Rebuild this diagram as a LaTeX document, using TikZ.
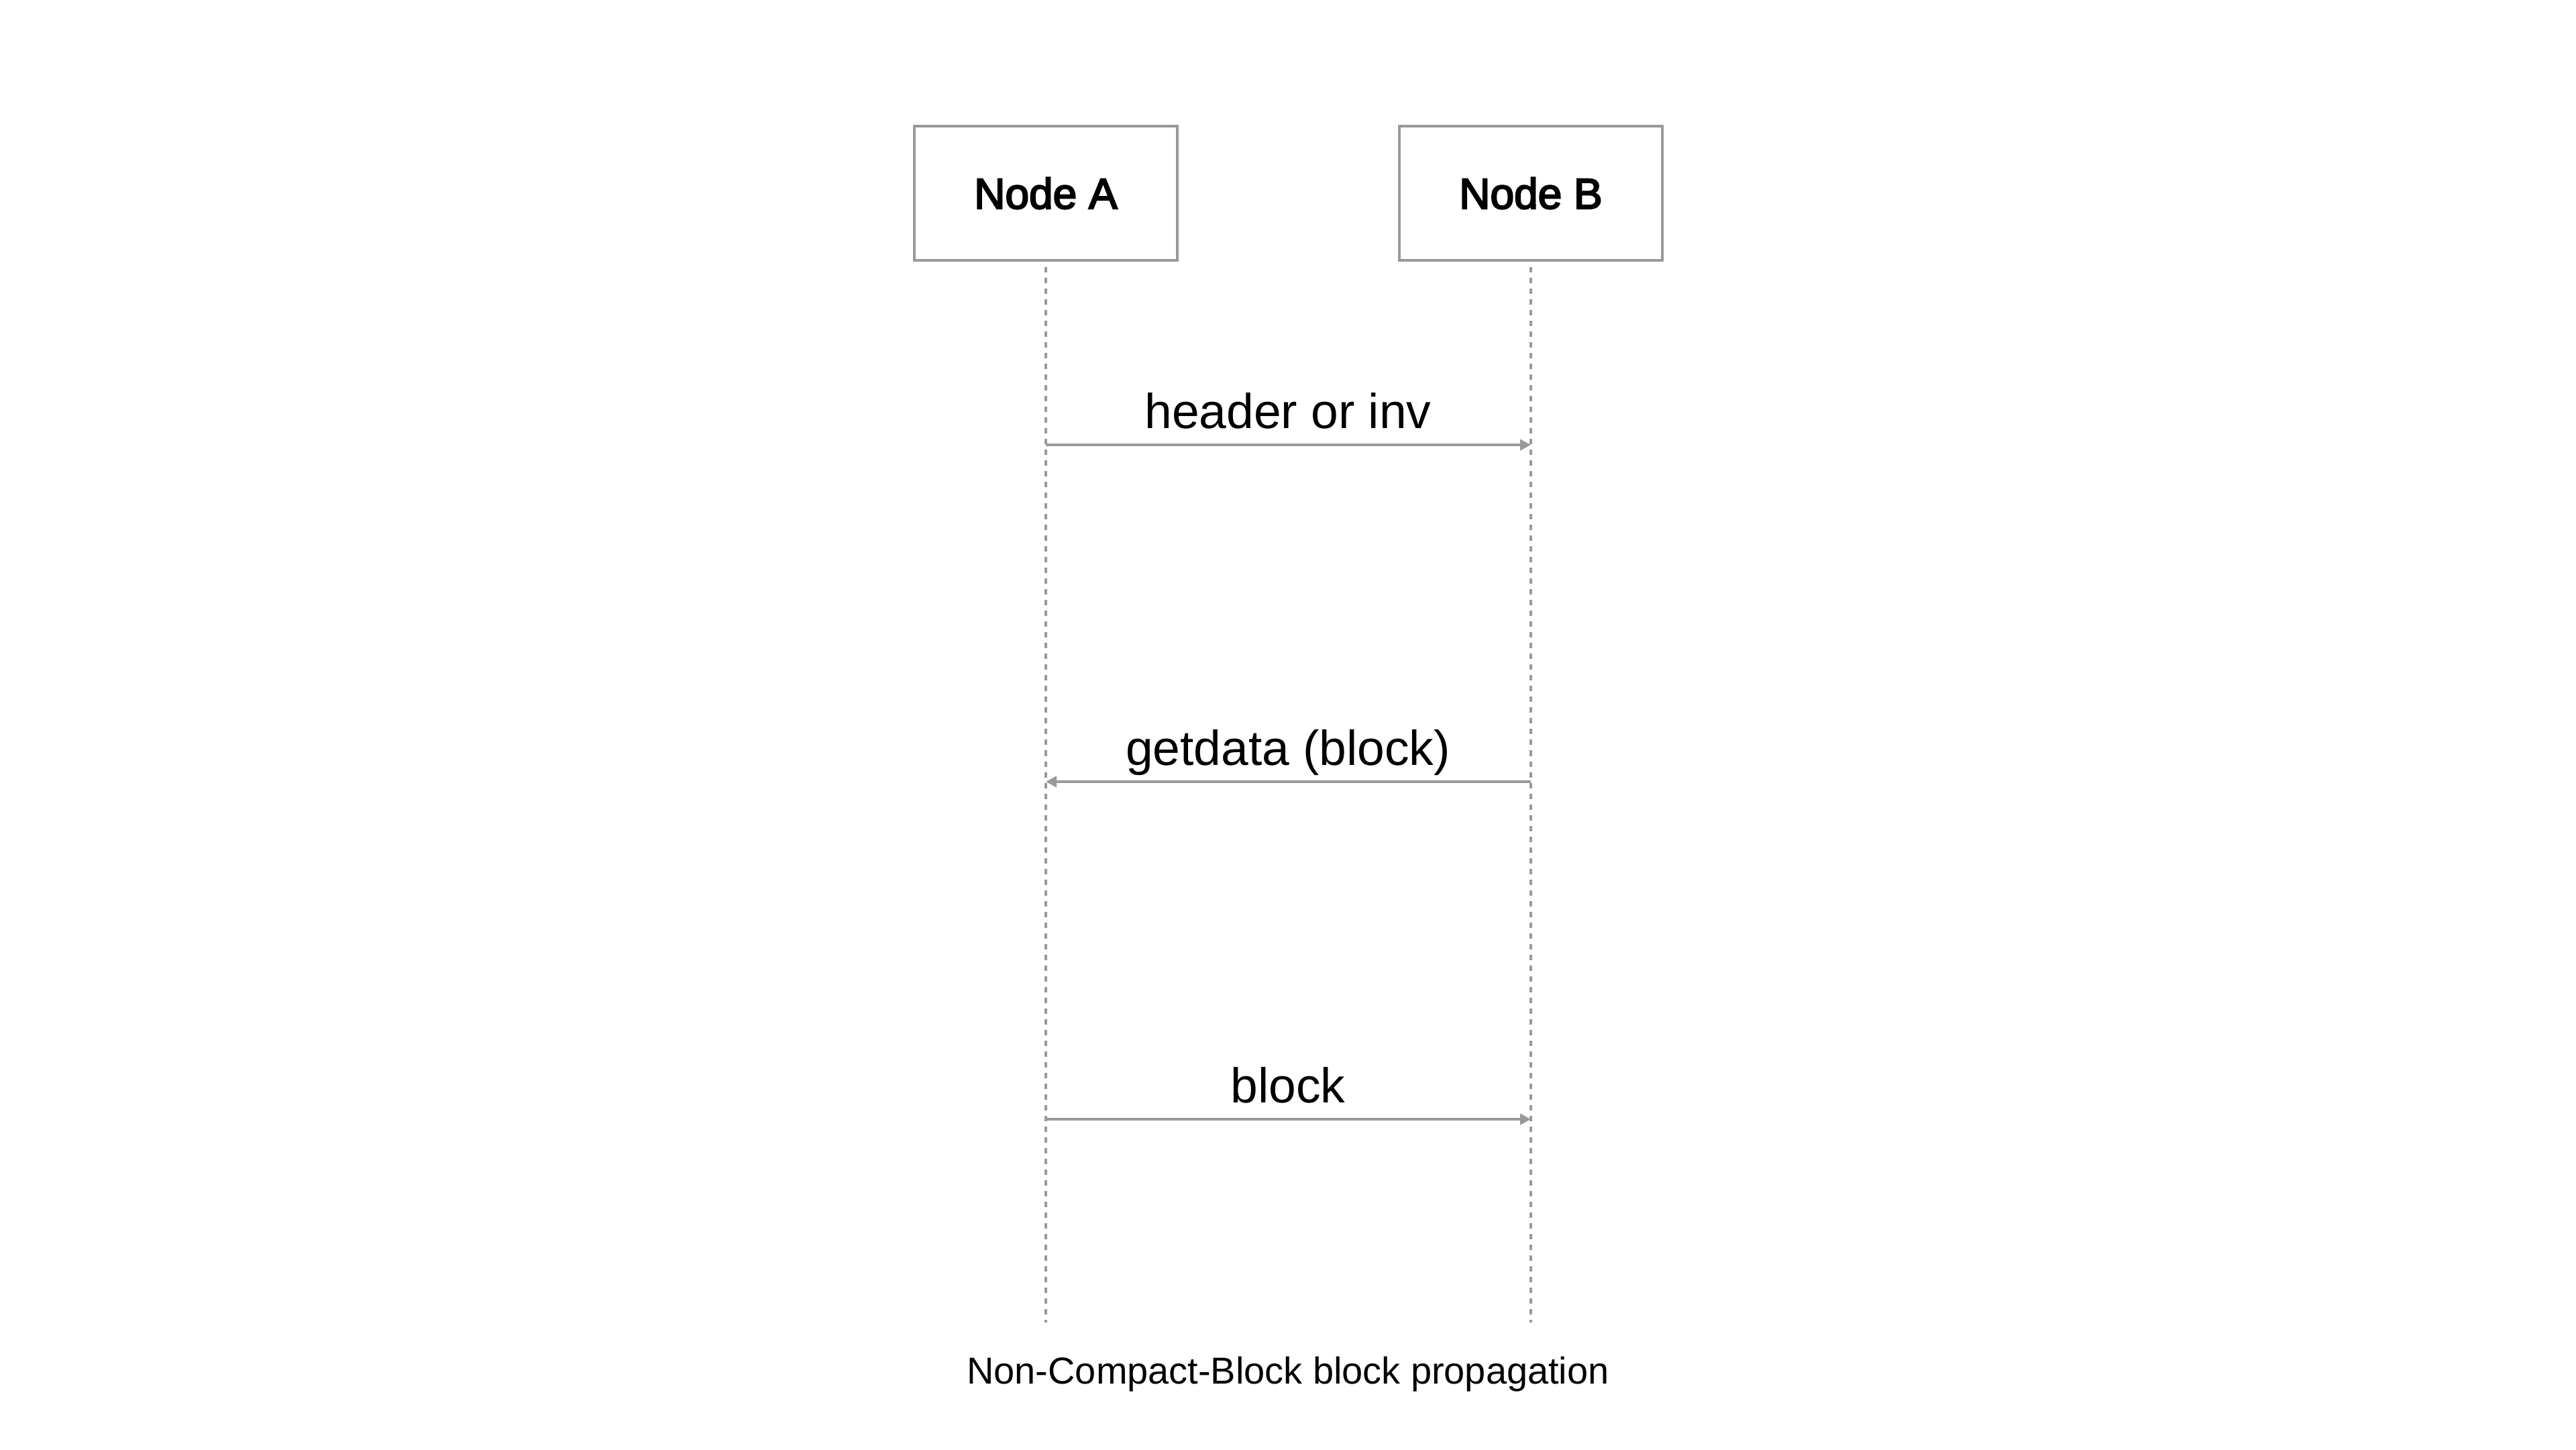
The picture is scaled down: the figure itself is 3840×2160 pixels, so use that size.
\documentclass[tikz,border=0pt]{standalone}
\usepackage{fontspec}
\setmainfont{Liberation Sans}
\newfontfamily\medfont[FakeBold=3.5]{Liberation Sans}
\usetikzlibrary{arrows.meta}
\definecolor{linegray}{HTML}{999999}
\begin{document}
\begin{tikzpicture}[x=0.01cm,y=-0.01cm,
  actor/.style={draw=linegray, line width=0.4mm, fill=white, minimum width=3.91cm, minimum height=2cm, inner sep=0pt, font=\medfont\fontsize{18.2}{20}\selectfont},
  lifeline/.style={draw=linegray, line width=0.35mm, dash pattern=on 0.8mm off 0.8mm},
  msg/.style={draw=linegray, line width=0.4mm, -{Triangle[length=1.6mm, width=1.6mm]}},
  msglabel/.style={font=\fontsize{20.8}{24}\selectfont, anchor=base, inner sep=0pt},
  caption/.style={font=\fontsize{15.9}{18}\selectfont, anchor=base, inner sep=0pt}]
\useasboundingbox (0,0) rectangle (3840,2160);
\node[actor] (A) at (1559,288) {Node A};
\node[actor] (B) at (2282,288) {Node B};
\coordinate (Aend) at (1559,1971);
\coordinate (Bend) at (2282,1971);
\coordinate (A1) at (1559,663);
\coordinate (B1) at (2282,663);
\coordinate (A2) at (1559,1165);
\coordinate (B2) at (2282,1165);
\coordinate (A3) at (1559,1668);
\coordinate (B3) at (2282,1668);
\draw[lifeline] ([yshift=-0.08cm]A.south) -- (Aend);
\draw[lifeline] ([yshift=-0.08cm]B.south) -- (Bend);
\draw[msg] (A1) -- (B1);
\draw[msg] (B2) -- (A2);
\draw[msg] (A3) -- (B3);
\node[msglabel] (l1) at (1920,638) {header or inv};
\node[msglabel] (l2) at (1920,1140) {getdata (block)};
\node[msglabel] (l3) at (1920,1643) {block};
\node[caption] (cap) at (1920,2062) {Non-Compact-Block block propagation};
\end{tikzpicture}
\end{document}
